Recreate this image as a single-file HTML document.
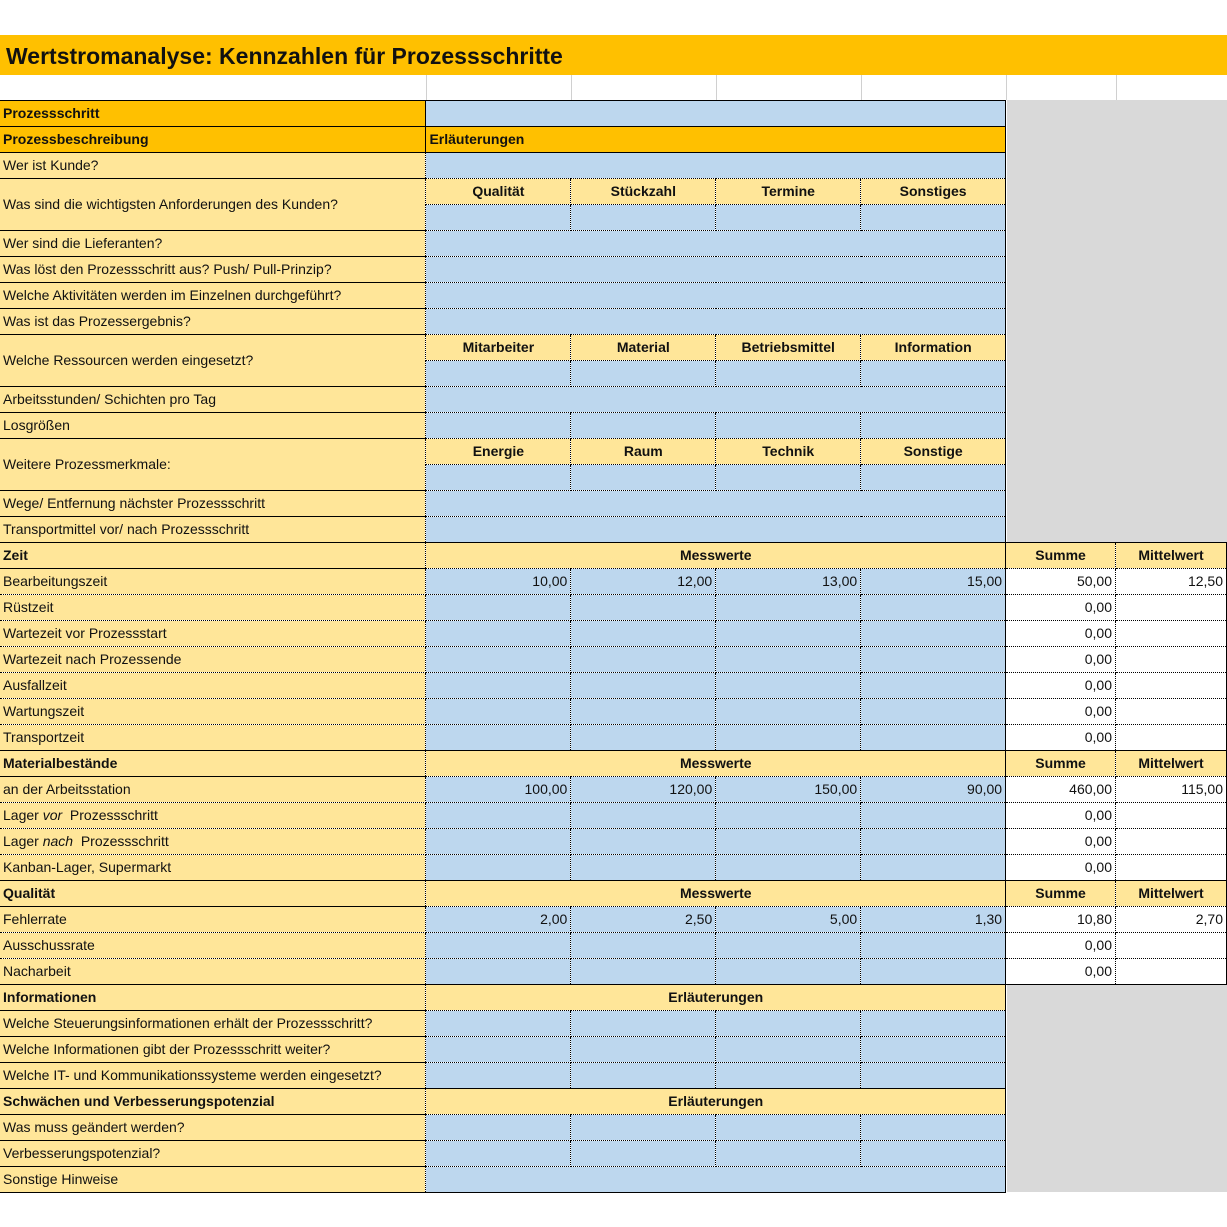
<!DOCTYPE html>
<html><head><meta charset="utf-8"><style>
body{margin:0;width:1227px;height:1227px;background:#fff;font-family:"Liberation Sans",sans-serif;position:relative;overflow:hidden}
.title{position:absolute;left:0;top:35px;width:1227px;height:40px;background:#FFC000;font-weight:bold;font-size:23px;line-height:42px;padding-left:6px;box-sizing:border-box;color:#111}
.grid{position:absolute;top:75px;left:0;width:1227px;height:25px;}
.grid div{position:absolute;top:0;height:25px;border-left:1px solid #d0d0d0}
.gray{position:absolute;background:#D9D9D9;left:1007px;width:220px}
table{position:absolute;left:0;top:100px;border-collapse:collapse;table-layout:fixed;font-size:14px;color:#111}
td{height:25px;padding:0 3px;border:1px dotted #000;white-space:nowrap;overflow:hidden;line-height:25px}
td.l{background:#FFE699;border-left:none;border-top:1px solid #000;border-bottom:1px solid #000}
td.o{background:#FFC000;font-weight:bold;border:1px solid #000;border-left:none}
td.b{background:#BDD7EE}
td.h{background:#FFE699;font-weight:bold;text-align:center}
td.w{background:#fff;text-align:right}
td.n{background:transparent;border:none !important}
td.r{text-align:right}
td.bo{font-weight:bold}
tr.sec td{border-top:1px solid #000}
td.e{border-right:1px solid #000}
td.sl{border-left:1px solid #000}
td.sr{border-right:1px solid #000}
</style></head><body>
<div class="title">Wertstromanalyse: Kennzahlen für Prozessschritte</div>
<div class="grid"><div style="left:426px"></div><div style="left:571px"></div><div style="left:716px"></div><div style="left:861px"></div><div style="left:1006px"></div><div style="left:1116px"></div></div>
<div class="gray" style="top:100px;height:442px"></div>
<div class="gray" style="top:985px;height:207px"></div>
<table>
<colgroup><col style="width:426px"><col style="width:145px"><col style="width:145px"><col style="width:145px"><col style="width:145px"><col style="width:110px"><col style="width:111px"></colgroup>
<tr><td class="o">Prozessschritt</td><td class="b e" colspan="4" style="border-top:1px solid #000"></td><td class="n"></td><td class="n"></td></tr>
<tr><td class="o">Prozessbeschreibung</td><td class="o e" colspan="4">Erläuterungen</td><td class="n"></td><td class="n"></td></tr>
<tr><td class="l">Wer ist Kunde?</td><td class="b e" colspan="4"></td><td class="n"></td><td class="n"></td></tr>
<tr><td class="l" rowspan="2">Was sind die wichtigsten Anforderungen des Kunden?</td><td class="h">Qualität</td><td class="h">Stückzahl</td><td class="h">Termine</td><td class="h e">Sonstiges</td><td class="n"></td><td class="n"></td></tr>
<tr><td class="b"></td><td class="b"></td><td class="b"></td><td class="b e"></td><td class="n"></td><td class="n"></td></tr>
<tr><td class="l">Wer sind die Lieferanten?</td><td class="b e" colspan="4"></td><td class="n"></td><td class="n"></td></tr>
<tr><td class="l">Was löst den Prozessschritt aus? Push/ Pull-Prinzip?</td><td class="b e" colspan="4"></td><td class="n"></td><td class="n"></td></tr>
<tr><td class="l">Welche Aktivitäten werden im Einzelnen durchgeführt?</td><td class="b e" colspan="4"></td><td class="n"></td><td class="n"></td></tr>
<tr><td class="l">Was ist das Prozessergebnis?</td><td class="b e" colspan="4"></td><td class="n"></td><td class="n"></td></tr>
<tr><td class="l" rowspan="2">Welche Ressourcen werden eingesetzt?</td><td class="h">Mitarbeiter</td><td class="h">Material</td><td class="h">Betriebsmittel</td><td class="h e">Information</td><td class="n"></td><td class="n"></td></tr>
<tr><td class="b"></td><td class="b"></td><td class="b"></td><td class="b e"></td><td class="n"></td><td class="n"></td></tr>
<tr><td class="l">Arbeitsstunden/ Schichten pro Tag</td><td class="b e" colspan="4"></td><td class="n"></td><td class="n"></td></tr>
<tr><td class="l">Losgrößen</td><td class="b"></td><td class="b"></td><td class="b"></td><td class="b e"></td><td class="n"></td><td class="n"></td></tr>
<tr><td class="l" rowspan="2">Weitere Prozessmerkmale:</td><td class="h">Energie</td><td class="h">Raum</td><td class="h">Technik</td><td class="h e">Sonstige</td><td class="n"></td><td class="n"></td></tr>
<tr><td class="b"></td><td class="b"></td><td class="b"></td><td class="b e"></td><td class="n"></td><td class="n"></td></tr>
<tr><td class="l">Wege/ Entfernung nächster Prozessschritt</td><td class="b e" colspan="4"></td><td class="n"></td><td class="n"></td></tr>
<tr><td class="l">Transportmittel vor/ nach Prozessschritt</td><td class="b e" colspan="4"></td><td class="n"></td><td class="n"></td></tr>
<tr class="sec"><td class="l bo">Zeit</td><td class="h" colspan="4">Messwerte</td><td class="h sl">Summe</td><td class="h sr">Mittelwert</td></tr>
<tr><td class="l" style="border-top:1px dotted #000;border-bottom:1px dotted #000">Bearbeitungszeit</td><td class="b r">10,00</td><td class="b r">12,00</td><td class="b r">13,00</td><td class="b r">15,00</td><td class="w sl">50,00</td><td class="w sr">12,50</td></tr>
<tr><td class="l" style="border-top:1px dotted #000;border-bottom:1px dotted #000">Rüstzeit</td><td class="b"></td><td class="b"></td><td class="b"></td><td class="b"></td><td class="w sl">0,00</td><td class="w sr"></td></tr>
<tr><td class="l" style="border-top:1px dotted #000;border-bottom:1px dotted #000">Wartezeit vor Prozessstart</td><td class="b"></td><td class="b"></td><td class="b"></td><td class="b"></td><td class="w sl">0,00</td><td class="w sr"></td></tr>
<tr><td class="l" style="border-top:1px dotted #000;border-bottom:1px dotted #000">Wartezeit nach Prozessende</td><td class="b"></td><td class="b"></td><td class="b"></td><td class="b"></td><td class="w sl">0,00</td><td class="w sr"></td></tr>
<tr><td class="l" style="border-top:1px dotted #000;border-bottom:1px dotted #000">Ausfallzeit</td><td class="b"></td><td class="b"></td><td class="b"></td><td class="b"></td><td class="w sl">0,00</td><td class="w sr"></td></tr>
<tr><td class="l" style="border-top:1px dotted #000;border-bottom:1px dotted #000">Wartungszeit</td><td class="b"></td><td class="b"></td><td class="b"></td><td class="b"></td><td class="w sl">0,00</td><td class="w sr"></td></tr>
<tr><td class="l" style="border-top:1px dotted #000">Transportzeit</td><td class="b"></td><td class="b"></td><td class="b"></td><td class="b"></td><td class="w sl">0,00</td><td class="w sr"></td></tr>
<tr class="sec"><td class="l bo">Materialbestände</td><td class="h" colspan="4">Messwerte</td><td class="h sl">Summe</td><td class="h sr">Mittelwert</td></tr>
<tr><td class="l" style="border-top:1px dotted #000;border-bottom:1px dotted #000">an der Arbeitsstation</td><td class="b r">100,00</td><td class="b r">120,00</td><td class="b r">150,00</td><td class="b r">90,00</td><td class="w sl">460,00</td><td class="w sr">115,00</td></tr>
<tr><td class="l" style="border-top:1px dotted #000;border-bottom:1px dotted #000">Lager <i>vor</i>&nbsp; Prozessschritt</td><td class="b"></td><td class="b"></td><td class="b"></td><td class="b"></td><td class="w sl">0,00</td><td class="w sr"></td></tr>
<tr><td class="l" style="border-top:1px dotted #000;border-bottom:1px dotted #000">Lager <i>nach</i>&nbsp; Prozessschritt</td><td class="b"></td><td class="b"></td><td class="b"></td><td class="b"></td><td class="w sl">0,00</td><td class="w sr"></td></tr>
<tr><td class="l" style="border-top:1px dotted #000">Kanban-Lager, Supermarkt</td><td class="b"></td><td class="b"></td><td class="b"></td><td class="b"></td><td class="w sl">0,00</td><td class="w sr"></td></tr>
<tr class="sec"><td class="l bo">Qualität</td><td class="h" colspan="4">Messwerte</td><td class="h sl">Summe</td><td class="h sr">Mittelwert</td></tr>
<tr><td class="l" style="border-top:1px dotted #000;border-bottom:1px dotted #000">Fehlerrate</td><td class="b r">2,00</td><td class="b r">2,50</td><td class="b r">5,00</td><td class="b r">1,30</td><td class="w sl">10,80</td><td class="w sr">2,70</td></tr>
<tr><td class="l" style="border-top:1px dotted #000;border-bottom:1px dotted #000">Ausschussrate</td><td class="b"></td><td class="b"></td><td class="b"></td><td class="b"></td><td class="w sl">0,00</td><td class="w sr"></td></tr>
<tr><td class="l" style="border-top:1px dotted #000">Nacharbeit</td><td class="b"></td><td class="b"></td><td class="b"></td><td class="b"></td><td class="w sl" style="border-bottom:1px solid #000">0,00</td><td class="w sr" style="border-bottom:1px solid #000"></td></tr>
<tr class="sec"><td class="l bo">Informationen</td><td class="h e" colspan="4">Erläuterungen</td><td class="n"></td><td class="n"></td></tr>
<tr><td class="l">Welche Steuerungsinformationen erhält der Prozessschritt?</td><td class="b"></td><td class="b"></td><td class="b"></td><td class="b e"></td><td class="n"></td><td class="n"></td></tr>
<tr><td class="l">Welche Informationen gibt der Prozessschritt weiter?</td><td class="b"></td><td class="b"></td><td class="b"></td><td class="b e"></td><td class="n"></td><td class="n"></td></tr>
<tr><td class="l">Welche IT- und Kommunikationssysteme werden eingesetzt?</td><td class="b"></td><td class="b"></td><td class="b"></td><td class="b e"></td><td class="n"></td><td class="n"></td></tr>
<tr class="sec"><td class="l bo">Schwächen und Verbesserungspotenzial</td><td class="h e" colspan="4">Erläuterungen</td><td class="n"></td><td class="n"></td></tr>
<tr><td class="l">Was muss geändert werden?</td><td class="b"></td><td class="b"></td><td class="b"></td><td class="b e"></td><td class="n"></td><td class="n"></td></tr>
<tr><td class="l">Verbesserungspotenzial?</td><td class="b"></td><td class="b"></td><td class="b"></td><td class="b e"></td><td class="n"></td><td class="n"></td></tr>
<tr><td class="l" style="border-bottom:1px solid #000">Sonstige Hinweise</td><td class="b e" colspan="4" style="border-bottom:1px solid #000"></td><td class="n"></td><td class="n"></td></tr>
</table>
</body></html>
